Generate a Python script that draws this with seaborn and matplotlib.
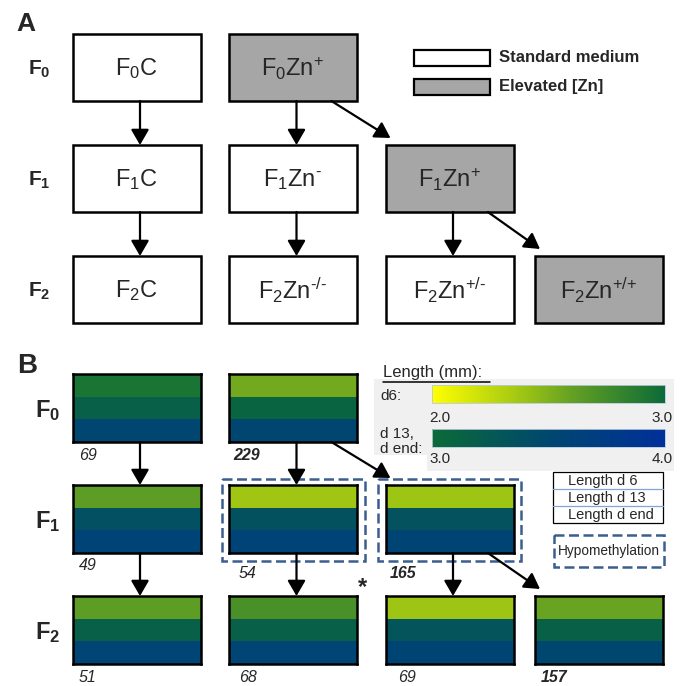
import numpy as np
import pandas as pd
import seaborn as sns
import matplotlib
matplotlib.use("Agg")
import matplotlib.pyplot as plt
from matplotlib.colors import LinearSegmentedColormap, Normalize
from matplotlib.patches import Rectangle
from matplotlib.colorbar import ColorbarBase

sns.set_style("white")
plt.rcParams["font.family"] = ["Liberation Sans", "DejaVu Sans"]
plt.rcParams["mathtext.fontset"] = "custom"
plt.rcParams["mathtext.rm"] = "Liberation Sans"
plt.rcParams["mathtext.it"] = "Liberation Sans:italic"
plt.rcParams["mathtext.bf"] = "Liberation Sans:bold"

# ---------------- data ----------------
groups = ["F0C", "F0Zn+", "F1C", "F1Zn-", "F1Zn+", "F2C", "F2Zn-/-", "F2Zn+/-", "F2Zn+/+"]
box_labels = [r"F$_0$C", r"F$_0$Zn$^{\text{+}}$", r"F$_1$C", r"F$_1$Zn$^{\text{-}}$",
              r"F$_1$Zn$^{\text{+}}$", r"F$_2$C", r"F$_2$Zn$^{\text{-/-}}$",
              r"F$_2$Zn$^{\text{+/-}}$", r"F$_2$Zn$^{\text{+/+}}$"]
generation = [0, 0, 1, 1, 1, 2, 2, 2, 2]
column = [0, 1, 0, 1, 2, 0, 1, 2, 3]
elevated = [False, True, False, False, True, False, False, False, True]
len_d6 = [2.93, 2.55, 2.63, 2.38, 2.39, 2.63, 2.72, 2.39, 2.58]
len_d13 = [3.16, 3.10, 3.38, 3.36, 3.34, 3.16, 3.15, 3.32, 3.14]
len_dend = [3.52, 3.52, 3.58, 3.58, 3.56, 3.54, 3.54, 3.56, 3.50]
n_larvae = ["69", "229", "49", "54", "165", "51", "68", "69", "157"]
n_bold = [False, True, False, False, True, False, False, False, True]
hypomethylated = [False, False, False, True, True, False, False, False, False]
lineage = [(0, 2), (1, 3), (1, 4), (2, 5), (3, 6), (4, 7), (4, 8)]
gen_labels = [r"F$_\mathbf{0}$", r"F$_\mathbf{1}$", r"F$_\mathbf{2}$"]
legend_a = ["Standard medium", "Elevated [Zn]"]
legend_rows = ["Length d 6", "Length d 13", "Length d end"]
d6_range = (2.0, 3.0)
late_range = (3.0, 4.0)

# ---------------- layout (pixels) ----------------
W, H = 684, 686
col_x = [72.5, 229, 385.5, 535]
box_w = 128
A_row_y = [34, 145, 256]
A_box_h = 67
B_row_y = [374, 485, 596]
B_box_h = 68
n_dx = [6.5, 4, 6.5, 10, 4.5, 6.5, 10, 12.5, 6]
n_dy = [14, 14, 13, 20, 21, 14, 14, 14, 14]

cmap_d6 = LinearSegmentedColormap.from_list(
    "d6", [(0, "#FFFF00"), (0.4, "#9BC314"), (0.6, "#64A023"), (1.0, "#0B6B37")])
cmap_late = LinearSegmentedColormap.from_list(
    "late", [(0, "#0B6B37"), (0.5, "#00476F"), (1.0, "#00309A")])


def fig_rect(x, y, w, h):
    return [x / W, 1 - (y + h) / H, w / W, h / H]


fig = plt.figure(figsize=(W / 100, H / 100), dpi=100)
base = fig.add_axes([0, 0, 1, 1])
base.set_xlim(0, W)
base.set_ylim(H, 0)
base.axis("off")

# grey background behind the colour scales
base.add_patch(Rectangle((374, 379), 53, 76, color="#F0F0F0", lw=0))
base.add_patch(Rectangle((427, 379), 247, 92, color="#F0F0F0", lw=0))

# ---------------- panel B heat boxes ----------------
mask_early = np.array([[False], [True], [True]])
for i, g in enumerate(groups):
    hax = fig.add_axes(fig_rect(col_x[column[i]], B_row_y[generation[i]], box_w, B_box_h))
    df = pd.DataFrame({"length": [len_d6[i], len_d13[i], len_dend[i]]},
                      index=["d6", "d13", "dend"])
    sns.heatmap(df, mask=mask_early, cmap=cmap_d6, vmin=d6_range[0], vmax=d6_range[1],
                cbar=False, ax=hax, xticklabels=False, yticklabels=False)
    sns.heatmap(df, mask=~mask_early, cmap=cmap_late, vmin=late_range[0], vmax=late_range[1],
                cbar=False, ax=hax, xticklabels=False, yticklabels=False)
    hax.set_xlabel("")
    hax.set_ylabel("")
    for s in hax.spines.values():
        s.set_visible(True)
        s.set_linewidth(1.8)
        s.set_color("black")

# colour scales
cax1 = fig.add_axes(fig_rect(432, 385, 233, 18))
cb1 = ColorbarBase(cax1, cmap=cmap_d6, norm=Normalize(*d6_range), orientation="horizontal")
cax2 = fig.add_axes(fig_rect(432, 429, 233, 18))
cb2 = ColorbarBase(cax2, cmap=cmap_late, norm=Normalize(*late_range), orientation="horizontal")
for cb in (cb1, cb2):
    cb.set_ticks([])
    cb.outline.set_linewidth(0.6)
    cb.outline.set_edgecolor("#B8C8E0")

# ---------------- overlay ----------------
ov = fig.add_axes([0, 0, 1, 1], zorder=10)
ov.set_xlim(0, W)
ov.set_ylim(H, 0)
ov.axis("off")
ov.patch.set_visible(False)

ov.text(26, 24, "A", fontsize=19, fontweight="bold", ha="center", va="center")
ov.text(27, 366, "B", fontsize=20, fontweight="bold", ha="center", va="center")

# panel A boxes
for i, g in enumerate(groups):
    x = col_x[column[i]]
    y = A_row_y[generation[i]]
    ov.add_patch(Rectangle((x, y), box_w, A_box_h, facecolor="#A6A6A6" if elevated[i] else "white",
                           edgecolor="black", lw=1.8))
    ov.text(x + box_w / 2, y + A_box_h / 2 + 1, box_labels[i], fontsize=17,
            ha="center", va="center")

for r, lab in enumerate(gen_labels):
    ov.text(39, A_row_y[r] + A_box_h / 2 + 2, lab, fontsize=15, fontweight="bold",
            ha="center", va="center")
    ov.text(48, B_row_y[r] + B_box_h / 2 + 3, lab, fontsize=17, fontweight="bold",
            ha="center", va="center")

# legend panel A
for k, (lab, fc) in enumerate(zip(legend_a, ["white", "#A6A6A6"])):
    yy = 50 + 29 * k
    ov.add_patch(Rectangle((414, yy), 76, 16, facecolor=fc, edgecolor="black", lw=1.6))
    ov.text(499, yy + 8, lab, fontsize=12, fontweight="bold", ha="left", va="center")


def arrow(x0, y0, x1, y1):
    ov.annotate("", xy=(x1, y1), xytext=(x0, y0),
                arrowprops=dict(arrowstyle="-|>,head_length=0.55,head_width=0.32",
                                lw=1.6, color="black", mutation_scale=17,
                                shrinkA=0, shrinkB=0))


for rows, bh in ((A_row_y, A_box_h), (B_row_y, B_box_h)):
    for p, c in lineage:
        px = col_x[column[p]]
        py = rows[generation[p]] + bh
        cx = col_x[column[c]]
        cy = rows[generation[c]]
        if column[p] == column[c]:
            xm = px + box_w / 2 + 3.5
            arrow(xm, py, xm, cy)
        else:
            arrow(px + box_w * 0.8, py, cx + 5, cy - 7)

# numbers of larvae
for i, g in enumerate(groups):
    x = col_x[column[i]]
    y = B_row_y[generation[i]] + B_box_h
    ov.text(x + n_dx[i], y + n_dy[i], n_larvae[i], fontsize=11.5,
            style="italic", fontweight="bold" if n_bold[i] else "normal",
            ha="left", va="center")

ov.text(363, 588, "*", fontsize=17, fontweight="bold", ha="center", va="center")

# hypomethylation dashed boxes
for i, g in enumerate(groups):
    if hypomethylated[i]:
        x = col_x[column[i]]
        y = B_row_y[generation[i]]
        ov.add_patch(Rectangle((x - 7.5, y - 6), box_w + 15, B_box_h + 14, fill=False,
                               edgecolor="#3A5F8E", lw=1.8, linestyle=(0, (4, 1.8))))

# colour scale labels
ov.text(383, 372, "Length (mm):", fontsize=12, ha="left", va="center")
ov.plot([383, 490], [381.5, 381.5], color="black", lw=1.1)
ov.text(380, 396, "d6:", fontsize=11, ha="left", va="center")
ov.text(380, 434, "d 13,", fontsize=11, ha="left", va="center")
ov.text(380, 449, "d end:", fontsize=11, ha="left", va="center")
ov.text(429, 418, f"{d6_range[0]:.1f}", fontsize=11, ha="left", va="center")
ov.text(673, 418, f"{d6_range[1]:.1f}", fontsize=11, ha="right", va="center")
ov.text(429, 459, f"{late_range[0]:.1f}", fontsize=11, ha="left", va="center")
ov.text(673, 459, f"{late_range[1]:.1f}", fontsize=11, ha="right", va="center")

# legend of rows
ov.add_patch(Rectangle((553, 472), 110, 51, fill=False, edgecolor="black", lw=0.9))
for k, lab in enumerate(legend_rows):
    ov.text(568, 472 + 17 * k + 9, lab, fontsize=10.5, ha="left", va="center")
for k in (1, 2):
    ov.plot([553, 663], [472 + 17 * k, 472 + 17 * k], color="#7FA6D6", lw=0.9)

ov.add_patch(Rectangle((554, 535), 110, 32, fill=False, edgecolor="#3A5F8E", lw=1.8,
                       linestyle=(0, (4, 1.8))))
ov.text(609, 551, "Hypomethylation", fontsize=9.8, ha="center", va="center")

fig.savefig("out.png", dpi=100)
